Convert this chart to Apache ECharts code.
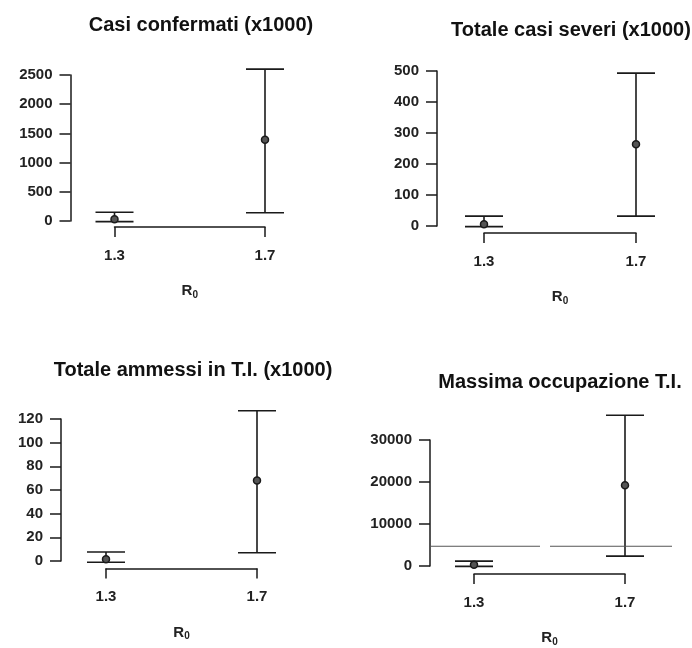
<!DOCTYPE html>
<html>
<head>
<meta charset="utf-8">
<script src="https://cdn.jsdelivr.net/npm/echarts@6/dist/echarts.min.js"></script>
<style>
  html, body { margin: 0; padding: 0; background: #fff; }
  #chart { width: 692px; height: 648px; }
</style>
</head>
<body>
<div id="chart"></div>
<script>
// R0 values on the x axis
var r0 = ['1.3', '1.7'];

// each panel: lower bound, mean, upper bound
var casiLow = [-10, 140];
var casiMean = [30, 1390];
var casiHigh = [150, 2600];

var severiLow = [-2, 32];
var severiMean = [6, 264];
var severiHigh = [32, 493];

var ammessiLow = [-1, 7];
var ammessiMean = [1.5, 68];
var ammessiHigh = [7.6, 127];

var occupLow = [-100, 2350];
var occupMean = [300, 19200];
var occupHigh = [1170, 35900];

// posti letto T.I. (linea orizzontale)
var capacity = [4700];

var titles = ['Casi confermati (x1000)', 'Totale casi severi (x1000)', 'Totale ammessi in T.I. (x1000)', 'Massima occupazione T.I.'];
var yMax = [2500, 500, 120, 30000];
var yStep = [500, 100, 20, 10000];

var chart = echarts.init(document.getElementById('chart'));
var font = '"Liberation Sans", Arial, Helvetica, sans-serif';
var ink = '#1a1a1a';

var toData = (low, mean, high) => r0.map((c, i) => [i, low[i], mean[i], high[i]]);

var errRender = (params, api) => {
    var x = api.coord([api.value(0), 0])[0];
    var lo = api.coord([api.value(0), api.value(1)])[1];
    var mid = api.coord([api.value(0), api.value(2)])[1];
    var hi = api.coord([api.value(0), api.value(3)])[1];
    var h = 19;
    var st = { stroke: ink, lineWidth: 1.6 };
    return {
        type: 'group',
        children: [
            { type: 'line', shape: { x1: x, y1: lo, x2: x, y2: hi }, style: st },
            { type: 'line', shape: { x1: x - h, y1: lo, x2: x + h, y2: lo }, style: st },
            { type: 'line', shape: { x1: x - h, y1: hi, x2: x + h, y2: hi }, style: st },
            { type: 'circle', shape: { cx: x, cy: mid, r: 3.5 }, style: { fill: '#555', stroke: ink, lineWidth: 1.5 } }
        ]
    };
};

// panel layout (pixels), R style axes detached from the plot region
var panels = [
    { left: 114.5, width: 150.5, top: 75, height: 146, yOff: 44, xOff: 6, tx: 196, ty: 10 },
    { left: 484, width: 152, top: 71, height: 155, yOff: 47, xOff: 7, tx: 566, ty: 15 },
    { left: 106, width: 151, top: 419, height: 142, yOff: 45, xOff: 7.5, tx: 188, ty: 355 },
    { left: 474, width: 151, top: 440, height: 127, yOff: 44, xOff: 8, tx: 555, ty: 367 }
];

var seriesData = [
    toData(casiLow, casiMean, casiHigh),
    toData(severiLow, severiMean, severiHigh),
    toData(ammessiLow, ammessiMean, ammessiHigh),
    toData(occupLow, occupMean, occupHigh)
];

var grid = [], xAxis = [], yAxis = [], title = [], series = [];
panels.forEach((p, i) => {
    grid.push({ left: p.left, top: p.top, width: p.width, height: p.height });
    title.push({
        text: titles[i], left: p.tx, top: p.ty, textAlign: 'center',
        textStyle: { fontFamily: font, fontSize: 20, fontWeight: 'bold', color: '#111' }
    });
    xAxis.push({
        type: 'category', gridIndex: i, data: r0, boundaryGap: false, offset: p.xOff,
        axisLine: { onZero: false, lineStyle: { color: ink, width: 1.5 } },
        axisTick: { length: 10, lineStyle: { color: ink, width: 1.5 } },
        axisLabel: { margin: 21, fontFamily: font, fontSize: 15, fontWeight: 'bold', color: '#222' },
        name: '{r|R}{s|0}', nameLocation: 'middle', nameGap: 55,
        nameTextStyle: {
            rich: {
                r: { fontFamily: font, fontSize: 15, fontWeight: 'bold', color: '#222' },
                s: { fontFamily: font, fontSize: 10, fontWeight: 'bold', color: '#222', verticalAlign: 'bottom', padding: [8, 0, 0, 0] }
            }
        },
        splitLine: { show: false }
    });
    yAxis.push({
        type: 'value', gridIndex: i, min: 0, max: yMax[i], interval: yStep[i], offset: p.yOff,
        axisLine: { show: true, lineStyle: { color: ink, width: 1.5 } },
        axisTick: { show: true, length: 11, lineStyle: { color: ink, width: 1.5 } },
        axisLabel: { margin: 18, fontFamily: font, fontSize: 15, fontWeight: 'bold', color: '#222', formatter: (v) => String(v) },
        splitLine: { show: false }
    });
    series.push({
        type: 'custom', xAxisIndex: i, yAxisIndex: i, data: seriesData[i],
        renderItem: errRender, clip: false, silent: true
    });
});

// linea orizzontale nel quarto pannello
series.push({
    type: 'custom', xAxisIndex: 3, yAxisIndex: 3, data: capacity.map((v) => [v]), clip: false, silent: true,
    renderItem: (params, api) => {
        var cs = params.coordSys;
        var y = api.coord([0, api.value(0)])[1];
        return {
            type: 'line',
            shape: { x1: cs.x - panels[3].yOff, y1: y, x2: cs.x + cs.width + 47, y2: y },
            style: { stroke: '#555', lineWidth: 1, lineDash: [110, 10, 150, 10] }
        };
    }
});

chart.setOption({
    animation: false,
    backgroundColor: '#fff',
    title: title,
    grid: grid,
    xAxis: xAxis,
    yAxis: yAxis,
    series: series
});
</script>
</body>
</html>
